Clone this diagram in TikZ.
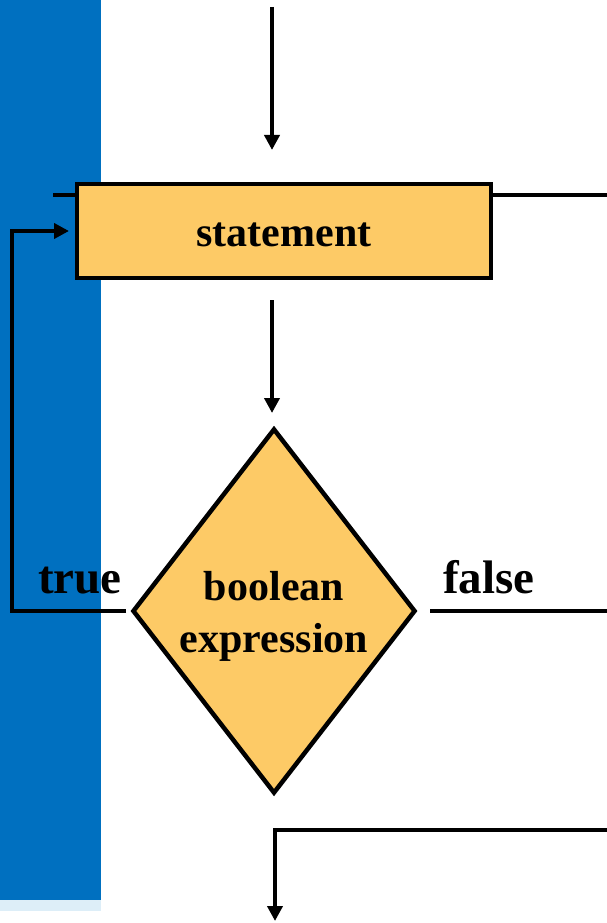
\documentclass[tikz,border=0pt]{standalone}
\usepackage{fontspec}
\setmainfont{Liberation Serif}
\usetikzlibrary{shapes.geometric,arrows.meta}
\definecolor{barblue}{RGB}{0,112,192}
\definecolor{barpale}{RGB}{221,238,248}
\definecolor{boxfill}{RGB}{253,202,102}
\begin{document}
\begin{tikzpicture}[x=1pt,y=-1pt,line join=miter,
  flowline/.style={line width=4pt},
  flowarrow/.style={flowline,-{Triangle[width=15pt,length=15pt]}},
  stepbox/.style={draw,line width=4.5pt,fill=boxfill,minimum width=414pt,
    minimum height=94pt,inner sep=0pt,text height=30pt,text depth=0pt,
    font=\fontsize{42}{50}\selectfont\bfseries},
  decision/.style={diamond,draw,line width=4.5pt,fill=boxfill,minimum width=283pt,
    minimum height=365pt,inner sep=0pt},
  decisiontext/.style={align=center,inner sep=0pt,yshift=-5pt,
    font=\fontsize{42}{52}\selectfont\bfseries},
  branch/.style={font=\fontsize{47}{56}\selectfont\bfseries,inner sep=0pt,anchor=base west}]
  \useasboundingbox (0,0) rectangle (607,923);

  % side bar
  \fill[barblue] (0,0) rectangle (101,900);
  \fill[barpale] (0,900) rectangle (101,911);

  % rule running behind the statement box
  \coordinate (rimL) at (53,195);
  \coordinate (rimR) at (607,195);
  \draw[flowline] (rimL) -- (rimR);

  % entry arrow
  \coordinate (entryA) at (272,7);
  \coordinate (entryB) at (272,150);
  \draw[flowarrow] (entryA) -- (entryB);

  % nodes
  \node[stepbox] (stmt) at (284,231) {statement};
  \node[decision,label={[decisiontext]center:boolean\\expression}] (dec) at (274,611) {};

  % statement -> condition
  \coordinate (downA) at (272,300);
  \coordinate (downB) at (272,413);
  \draw[flowarrow] (downA) -- (downB);

  % true branch loops back
  \coordinate (loopA) at (126,611);
  \coordinate (loopB) at (69,231);
  \draw[flowarrow] (loopA) -- (12,611) -- (12,231) -- (loopB);
  \node[branch] (tlabel) at (38,593) {true};

  % false branch
  \coordinate (falseA) at (430,611);
  \coordinate (falseB) at (607,611);
  \draw[flowline] (falseA) -- (falseB);
  \node[branch] (flabel) at (443,593) {false};

  % exit
  \coordinate (exitA) at (607,830);
  \coordinate (exitB) at (275,921);
  \draw[flowarrow] (exitA) -- (275,830) -- (exitB);
\end{tikzpicture}
\end{document}
